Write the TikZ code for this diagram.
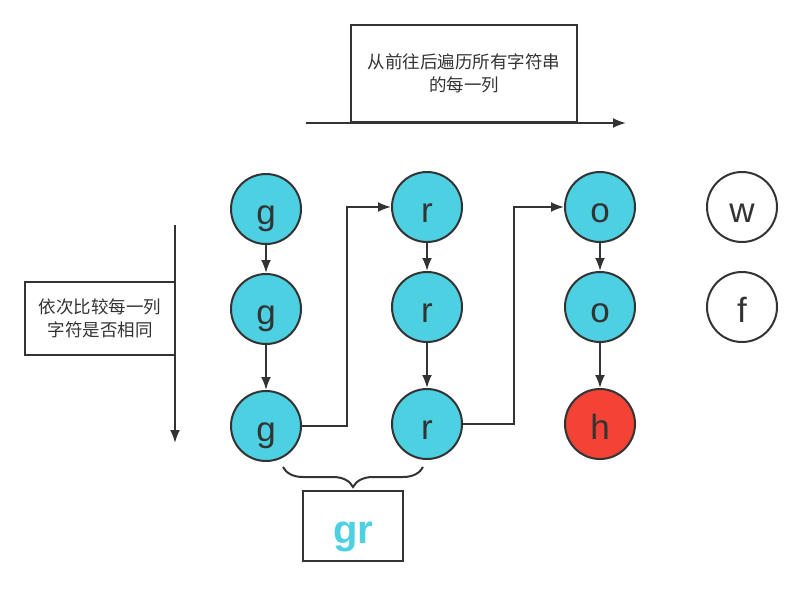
\documentclass[tikz,border=0pt]{standalone}
\usepackage{fontspec}
\setmainfont{Liberation Sans}
\newfontfamily\cjk{Noto Sans CJK SC}
\usetikzlibrary{arrows.meta, positioning, decorations.pathreplacing}

\definecolor{cyanfill}{HTML}{4DD0E1}
\definecolor{redfill}{HTML}{F44336}
\definecolor{edge}{HTML}{333333}

\begin{document}
\begin{tikzpicture}[
  x=1pt, y=-1pt,
  >={Latex[length=13pt, width=10pt]}, line width=2pt, draw=edge, color=edge,
  char/.style  = {draw=edge, circle, minimum size=70pt, inner sep=0pt,
                  text height=30pt, text depth=0pt, font=\fontsize{35}{35}\selectfont},
  hit/.style   = {char, fill=cyanfill},
  miss/.style  = {char, fill=redfill},
  spare/.style = {char, fill=white},
  note/.style  = {draw=edge, rectangle, align=center, font=\cjk\fontsize{17.5}{22.5}\selectfont},
]
  \useasboundingbox (0,0) rectangle (802,592);

  % Column of g
  \node[hit]   (g1) at (266,209) {g};
  \node[hit]   (g2) at (266,309) {g};
  \node[hit]   (g3) at (266,426) {g};

  % Column of r
  \node[hit]   (r1) at (427,207) {r};
  \node[hit]   (r2) at (427,307) {r};
  \node[hit]   (r3) at (427,424) {r};

  % Column of o, mismatch at h
  \node[hit]   (o1) at (600,207) {o};
  \node[hit]   (o2) at (600,307) {o};
  \node[miss]  (h)  at (600,424) {h};

  % Last column
  \node[spare] (w)  at (742,207) {w};
  \node[spare] (f)  at (742,307) {f};

  % Notes
  \node[note, minimum width=226pt, minimum height=97pt] (across) at (464,73.5)
      {从前往后遍历所有字符串\\的每一列};
  \node[note, minimum width=150pt, minimum height=73pt] (down) at (100,318.5)
      {依次比较每一列\\字符是否相同};
  \node[draw=edge, minimum width=100pt, minimum height=70pt, inner sep=0pt,
        text height=34pt, text depth=0pt, text=cyanfill,
        font=\bfseries\fontsize{40}{40}\selectfont] (prefix) at (353,526) {gr};

  % Direction arrows
  \coordinate (astart) at (306,123);
  \coordinate (aend)   at (626,123);
  \draw[->] (astart) -- (aend);
  \coordinate (dstart) at (175,225);
  \coordinate (dend)   at (175,443);
  \draw[->] (dstart) -- (dend);

  % Down each column
  \draw[->] (g1) -- (g2);
  \draw[->] (g2) -- (g3);
  \draw[->] (r1) -- (r2);
  \draw[->] (r2) -- (r3);
  \draw[->] (o1) -- (o2);
  \draw[->] (o2) -- (h);

  % On to the next column
  \draw[->] (g3.east) -- (347,426) |- (r1.west);
  \draw[->] (r3.east) -- (514,424) |- (o1.west);

  % Common prefix brace
  \draw[decorate, decoration={brace, mirror, amplitude=20pt}]
      (283,467) -- (423,467);
\end{tikzpicture}
\end{document}
